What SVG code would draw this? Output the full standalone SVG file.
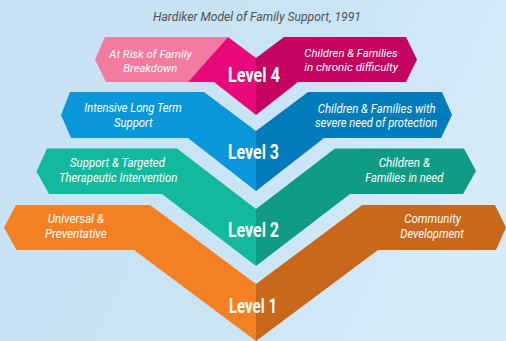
<svg xmlns="http://www.w3.org/2000/svg" width="506" height="341" viewBox="0 0 506 341">
<defs>
<linearGradient id="bg" x1="0" y1="0" x2="1" y2="0.3">
<stop offset="0" stop-color="#c6e2f4"/>
<stop offset="0.6" stop-color="#c9e4f5"/>
<stop offset="1" stop-color="#d6eaf7"/>
</linearGradient>
<style>
.t{font-family:Roboto,"Liberation Sans",sans-serif;font-style:italic;font-size:12.5px;fill:#ffffff}
.s{font-size:11.5px}
.lv{font-family:Roboto,"Liberation Sans",sans-serif;font-weight:bold;font-size:20px;fill:#ffffff}
.title{font-family:Roboto,"Liberation Sans",sans-serif;font-style:italic;font-size:12.5px;fill:#505050}
</style>
</defs>
<rect x="0" y="0" width="506" height="341" fill="url(#bg)"/>
<text class="title" x="153" y="20.5" textLength="208" lengthAdjust="spacingAndGlyphs">Hardiker Model of Family Support, 1991</text>
<g id="connectors"/>
<g id="level1">
<polygon points="16,205 150,205 256,284 256,341 134,250 16.5,250 4,227.5" fill="#f48024"/>
<polygon points="256,284 362,205 495,205 506,227.5 496,250 378,250 256,341" fill="#c9671b"/>
<text class="t" x="47.7" y="223.3" textLength="56.3" lengthAdjust="spacingAndGlyphs">Universal &amp;</text>
<text class="t" x="45" y="238.3" textLength="61.7" lengthAdjust="spacingAndGlyphs">Preventative</text>
<text class="t" x="404.3" y="223.3" textLength="56.7" lengthAdjust="spacingAndGlyphs">Community</text>
<text class="t" x="400.3" y="238.3" textLength="63.4" lengthAdjust="spacingAndGlyphs">Development</text>
<text class="lv" x="229" y="313.3" textLength="48" lengthAdjust="spacingAndGlyphs">Level 1</text>
</g>
<g id="level2">
<polygon points="47,148.5 177,148.5 256,209 256,266 162,194 49,194 36.5,171.5" fill="#13b99d"/>
<polygon points="256,209 335,148.5 464,148.5 476,171 463,194 350,194 256,266" fill="#0f9b84"/>
<text class="t" x="70" y="167.3" textLength="95" lengthAdjust="spacingAndGlyphs">Support &amp; Targeted</text>
<text class="t" x="59" y="181.7" textLength="118.3" lengthAdjust="spacingAndGlyphs">Therapeutic Intervention</text>
<text class="t" x="378.7" y="167.3" textLength="51.3" lengthAdjust="spacingAndGlyphs">Children &amp;</text>
<text class="t" x="365.3" y="181.7" textLength="78" lengthAdjust="spacingAndGlyphs">Families in need</text>
<text class="lv" x="228" y="236.7" textLength="51" lengthAdjust="spacingAndGlyphs">Level 2</text>
</g>
<g id="level3">
<polygon points="70,92 204,92 256,131 256,191 188,138 71,138 61,115" fill="#0a97d9"/>
<polygon points="256,131 308,92 442,92 452,115 441,138 324,138 256,191" fill="#007bbb"/>
<text class="t" x="84.3" y="112.3" textLength="97.4" lengthAdjust="spacingAndGlyphs">Intensive Long Term</text>
<text class="t" x="114" y="126.7" textLength="38.7" lengthAdjust="spacingAndGlyphs">Support</text>
<text class="t" x="317.7" y="112.7" textLength="118" lengthAdjust="spacingAndGlyphs">Children &amp; Families with</text>
<text class="t" x="315" y="126.7" textLength="122.3" lengthAdjust="spacingAndGlyphs">severe need of protection</text>
<text class="lv" x="228" y="159.3" textLength="51" lengthAdjust="spacingAndGlyphs">Level 3</text>
</g>
<g id="level4">
<polygon points="105,37 228,37 188,82 106,82 95,59.5" fill="#f27c9f"/>
<polygon points="228,37 256,58 256,115 214,82 188,82" fill="#e9087a"/>
<polygon points="256,58 284,37 406,37 417,59.5 406,82 298,82 256,115" fill="#c3035f"/>
<text class="t s" x="109.3" y="58.3" textLength="82.4" lengthAdjust="spacingAndGlyphs">At Risk of Family</text>
<text class="t s" x="123.3" y="72" textLength="54" lengthAdjust="spacingAndGlyphs">Breakdown</text>
<text class="t s" x="304.3" y="57.3" textLength="93.4" lengthAdjust="spacingAndGlyphs">Children &amp; Families</text>
<text class="t s" x="304.3" y="71" textLength="93.7" lengthAdjust="spacingAndGlyphs">in chronic difficulty</text>
<text class="lv" x="228" y="81.7" textLength="52" lengthAdjust="spacingAndGlyphs">Level 4</text>
</g>
</svg>
